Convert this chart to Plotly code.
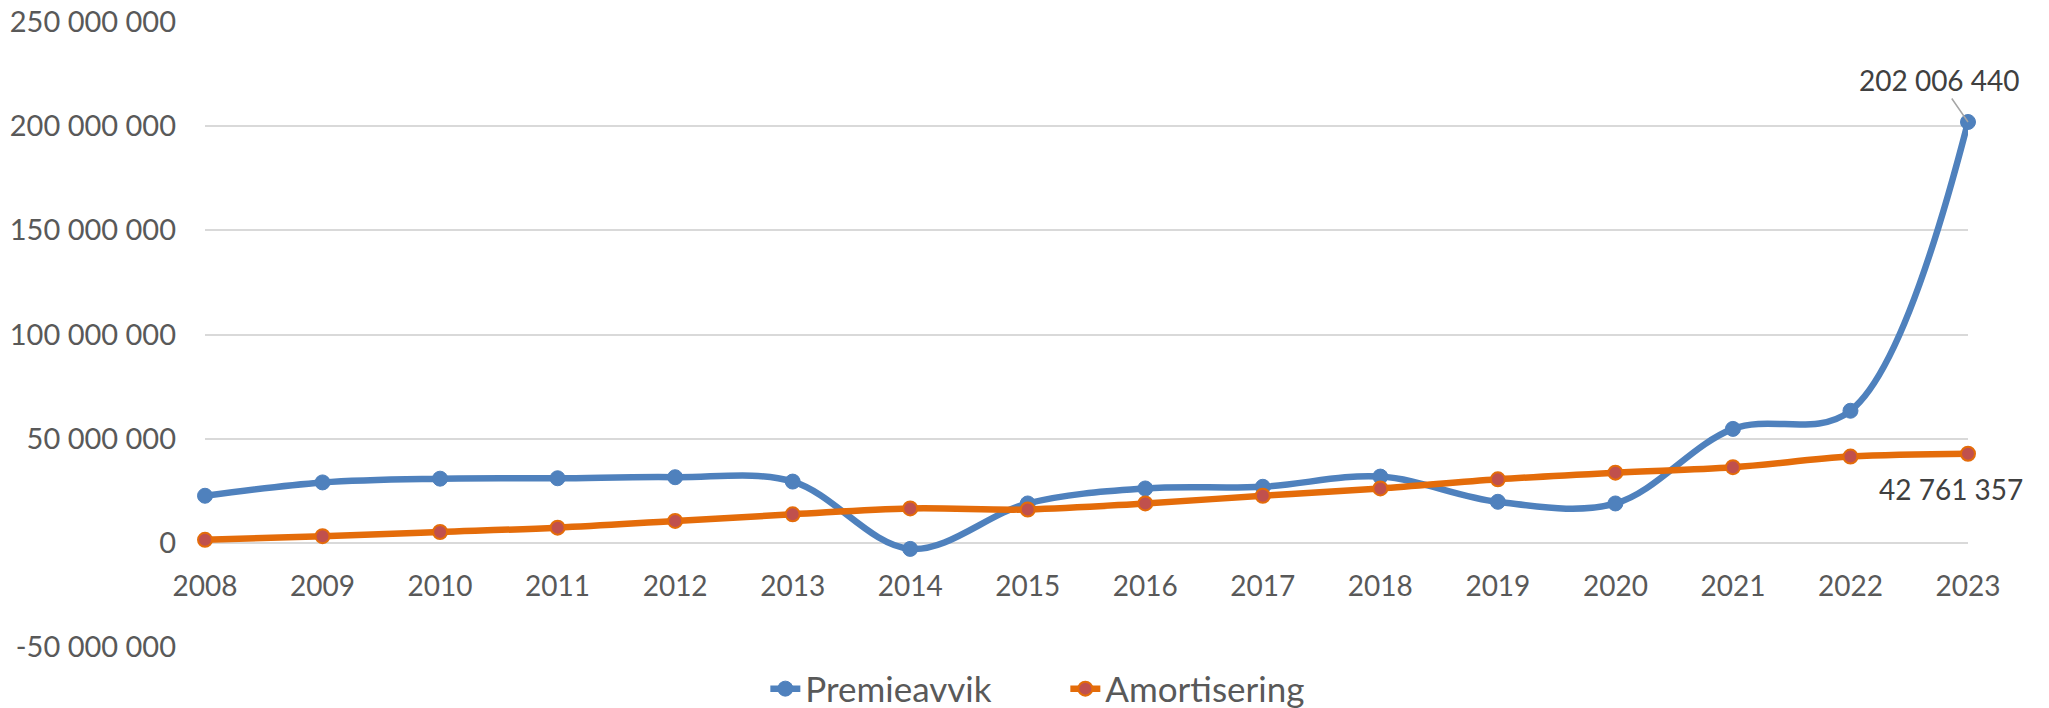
import plotly.graph_objects as go

years = [2008, 2009, 2010, 2011, 2012, 2013, 2014, 2015, 2016, 2017, 2018, 2019, 2020, 2021, 2022, 2023]
premieavvik = [22600000, 29000000, 30800000, 31000000, 31500000, 29400000, -2900000, 18900000,
               26100000, 26900000, 31800000, 19700000, 18900000, 54700000, 63400000, 202006440]
amortisering = [1450000, 3200000, 5200000, 7300000, 10500000, 13700000, 16500000, 16000000,
                18900000, 22600000, 26100000, 30500000, 33700000, 36300000, 41400000, 42761357]
y_tickvals = [-50000000, 0, 50000000, 100000000, 150000000, 200000000, 250000000]
y_ticktext = ["-50 000 000", "0", "50 000 000", "100 000 000", "150 000 000", "200 000 000", "250 000 000"]

FONT = "Lato"
BLUE = "#4F81BD"
ORANGE = "#E46C0A"
RED = "#C0504D"

fig = go.Figure()
fig.add_trace(go.Scatter(
    x=years, y=premieavvik, name="Premieavvik", mode="lines+markers",
    line=dict(color=BLUE, width=6.5, shape="spline", smoothing=1.0),
    marker=dict(color=BLUE, size=15, line=dict(color=BLUE, width=1)),
    cliponaxis=False,
))
fig.add_trace(go.Scatter(
    x=years, y=amortisering, name="Amortisering", mode="lines+markers",
    line=dict(color=ORANGE, width=6.5, shape="spline", smoothing=1.0),
    marker=dict(color=RED, size=14, line=dict(color=ORANGE, width=2)),
    cliponaxis=False,
))

fig.add_annotation(
    x=years[-1], y=premieavvik[-1], text="202 006 440",
    showarrow=True, arrowhead=0, arrowwidth=1.5, arrowcolor="#A6A6A6",
    ax=-29, ay=-42, font=dict(family=FONT, size=28, color="#404040"),
)
fig.add_annotation(
    x=years[-1], y=amortisering[-1], text="42 761 357",
    showarrow=False, xshift=-17, yshift=-35,
    font=dict(family=FONT, size=28, color="#404040"),
)

fig.update_layout(
    width=2049, height=708,
    margin=dict(l=205, r=81, t=22, b=61, autoexpand=False),
    paper_bgcolor="white", plot_bgcolor="white",
    font=dict(family=FONT, size=28, color="#595959"),
    showlegend=True,
    legend=dict(orientation="h", x=0.488, xanchor="center", y=-0.067, yanchor="middle",
                font=dict(family=FONT, size=35, color="#595959"), itemwidth=30,
                entrywidth=255, bgcolor="rgba(0,0,0,0)"),
    xaxis=dict(
        range=[2008, 2023], tickmode="array", tickvals=years, ticktext=[str(y) for y in years],
        showgrid=False, zeroline=False, showline=False, ticks="",
        anchor="free", position=1/6, ticklabelstandoff=24,
        tickfont=dict(family=FONT, size=28, color="#595959"),
    ),
    yaxis=dict(
        range=[-50000000, 250000000], tickmode="array", tickvals=y_tickvals, ticktext=y_ticktext,
        showgrid=True, gridcolor="#D9D9D9", gridwidth=2, zeroline=False, showline=False, ticks="",
        ticklabelstandoff=28,
        tickfont=dict(family=FONT, size=29, color="#595959"),
    ),
)

fig.write_html(
    "out.html",
    config={"displayModeBar": False},
    post_script="document.body.style.margin='0';document.body.style.overflow='hidden';",
)
